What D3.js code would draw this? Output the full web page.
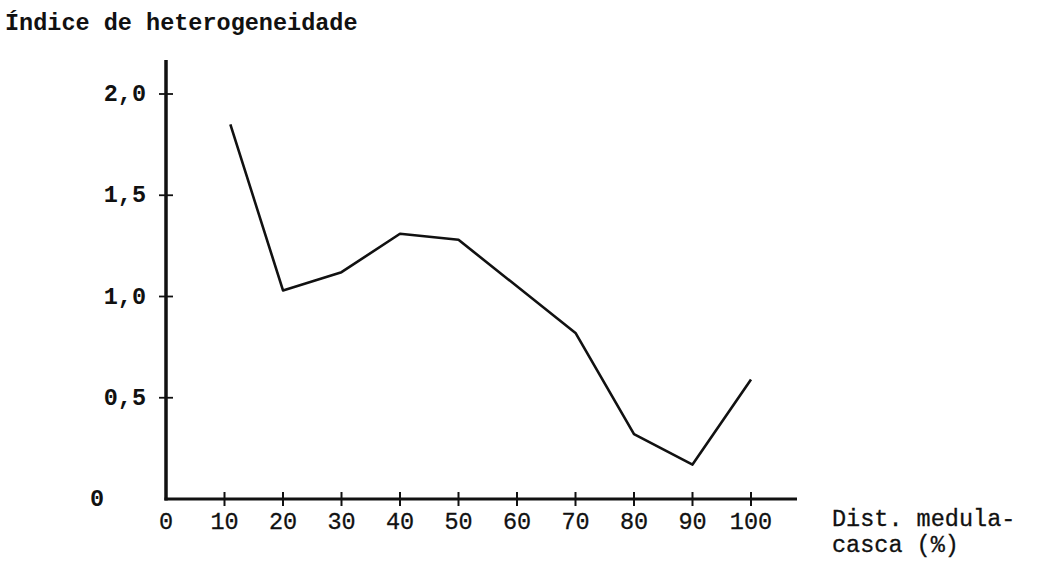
<!DOCTYPE html>
<html>
<head>
<meta charset="utf-8">
<script src="https://cdn.jsdelivr.net/npm/d3@7"></script>
<style>
  body { margin: 0; background: #fff; }
  text { font-family: "Liberation Mono", "DejaVu Sans Mono", monospace; fill: #111; }
</style>
</head>
<body>
<div id="chart"></div>
<script>
// values
const distances = [11, 20, 30, 40, 50, 70, 80, 90, 100];
const indices = [1.85, 1.03, 1.12, 1.31, 1.28, 0.82, 0.32, 0.17, 0.59];
const xTicks = [0, 10, 20, 30, 40, 50, 60, 70, 80, 90, 100];
const yTicks = [0, 0.5, 1.0, 1.5, 2.0];
const yTickLabels = ["0", "0,5", "1,0", "1,5", "2,0"];
const xTitleLines = ["Dist. medula-", "casca (%)"];

const width = 1055, height = 588;

const svg = d3.select("#chart")
  .append("svg")
  .attr("width", width)
  .attr("height", height);

const x = d3.scaleLinear().domain([0, 100]).range([166, 751]);
const y = d3.scaleLinear().domain([0, 2]).range([499, 94]);

// title
svg.append("text")
  .attr("x", 5)
  .attr("y", 30)
  .attr("font-size", 23.5)
  .attr("font-weight", "bold")
  .text("Índice de heterogeneidade");

// y axis line
svg.append("line")
  .attr("x1", x(0)).attr("x2", x(0))
  .attr("y1", 60).attr("y2", y(0) + 1.5)
  .attr("stroke", "#111").attr("stroke-width", 3.5);

// x axis line
svg.append("line")
  .attr("x1", x(0) - 1.5).attr("x2", 797)
  .attr("y1", y(0)).attr("y2", y(0))
  .attr("stroke", "#111").attr("stroke-width", 3);

// y ticks
svg.selectAll(".ytick")
  .data(yTicks.filter(d => d > 0))
  .enter()
  .append("line")
  .attr("x1", x(0) - 7).attr("x2", x(0) + 7)
  .attr("y1", d => y(d)).attr("y2", d => y(d))
  .attr("stroke", "#111").attr("stroke-width", 1.8);

// y tick labels: "0" sits further left, the others end before the ticks
svg.selectAll(".ylab")
  .data(yTicks)
  .enter()
  .append("text")
  .attr("x", d => d === 0 ? 90 : 146)
  .attr("y", d => y(d) + 7)
  .attr("text-anchor", d => d === 0 ? "start" : "end")
  .attr("font-size", 23.5)
  .attr("font-weight", "bold")
  .text((d, i) => yTickLabels[i]);

// x ticks
svg.selectAll(".xtick")
  .data(xTicks.filter(d => d > 0))
  .enter()
  .append("line")
  .attr("x1", d => x(d)).attr("x2", d => x(d))
  .attr("y1", y(0) - 7).attr("y2", y(0) + 7)
  .attr("stroke", "#111").attr("stroke-width", 2);

svg.selectAll(".xlab")
  .data(xTicks)
  .enter()
  .append("text")
  .attr("x", d => x(d))
  .attr("y", 529)
  .attr("text-anchor", "middle")
  .attr("font-size", 23.5)
  .attr("stroke", "#111")
  .attr("stroke-width", 0.3)
  .text(d => d);

// x axis title, two lines
svg.selectAll(".xtitle")
  .data(xTitleLines)
  .enter()
  .append("text")
  .attr("x", 832)
  .attr("y", (d, i) => 526 + i * 26)
  .attr("font-size", 23.5)
  .attr("stroke", "#111")
  .attr("stroke-width", 0.3)
  .text(d => d);

// data line
const line = d3.line()
  .x((d, i) => x(distances[i]))
  .y(d => y(d));

svg.append("path")
  .datum(indices)
  .attr("d", line)
  .attr("fill", "none")
  .attr("stroke", "#111")
  .attr("stroke-width", 2.6)
  .attr("stroke-linejoin", "round");
</script>
</body>
</html>
